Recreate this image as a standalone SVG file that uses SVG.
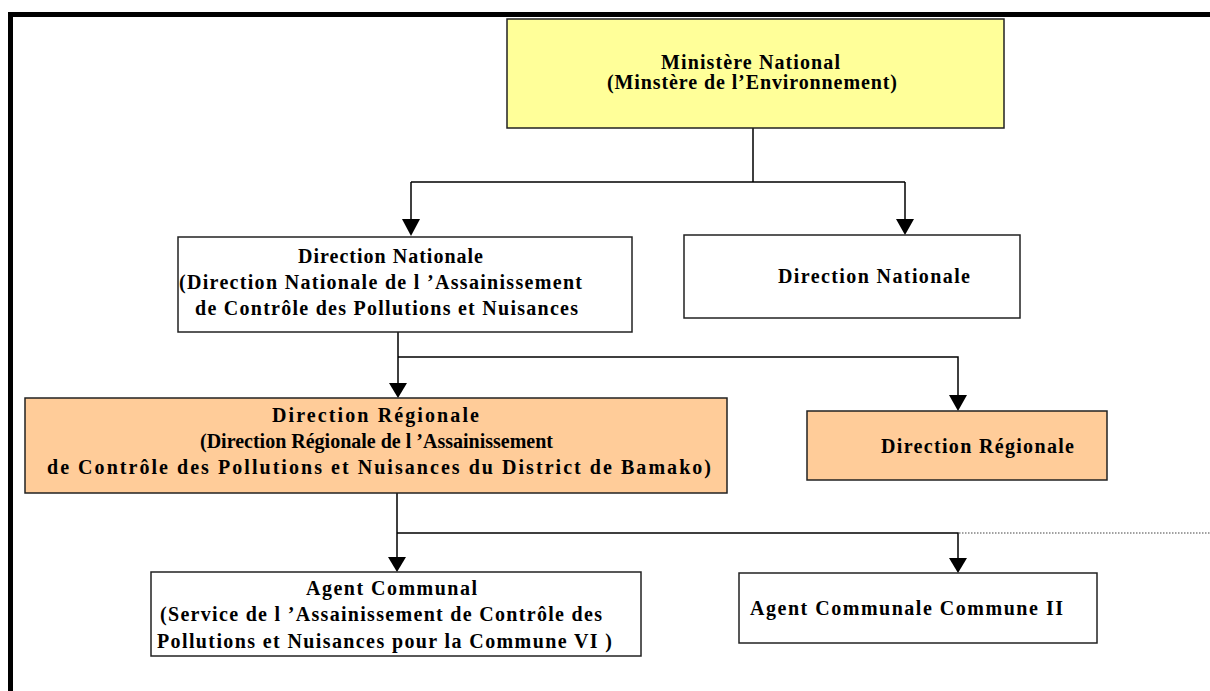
<svg xmlns="http://www.w3.org/2000/svg" width="1210" height="691" viewBox="0 0 1210 691">
<defs>
<style>
.box{stroke:#222;stroke-width:1.5}
.white{fill:#fff}
.yellow{fill:#ffff99}
.orange{fill:#ffcc99}
.t{font-family:"Liberation Serif","Times New Roman",serif;font-weight:bold;font-size:20px;fill:#000}
.ln{fill:none;stroke:#000;stroke-width:1.5}
.dot{fill:none;stroke:#444;stroke-width:1.2;stroke-dasharray:1.5 1.5}
.ah{fill:#000}
</style>
</defs>
<rect x="0" y="0" width="1210" height="691" fill="#fff"/>
<g id="frame">
<rect x="8" y="12" width="1202" height="5" fill="#000"/>
<rect x="8" y="12" width="5" height="679" fill="#000"/>
</g>
<g id="connectors">
<path class="ln" d="M753,128 V182 M411,182 H905"/>
<path class="ln" d="M411,182 V222"/>
<polygon class="ah" points="402,219 420,219 411,236"/>
<path class="ln" d="M905,182 V220"/>
<polygon class="ah" points="896,219 914,219 905,235"/>
<path class="ln" d="M398,332 V384 M398,357 H958 V396"/>
<polygon class="ah" points="389,383 407,383 398,398"/>
<polygon class="ah" points="949,395 967,395 958,411"/>
<path class="ln" d="M397,493 V558 M397,533 H958 V560"/>
<polygon class="ah" points="388,557 406,557 397,572"/>
<polygon class="ah" points="949,558 967,558 958,573"/>
<path class="dot" d="M959,533 H1210"/>
</g>
<g id="n-ministere">
<rect class="box yellow" x="507" y="19" width="497" height="109"/>
<text class="t" x="661" y="69" textLength="179" lengthAdjust="spacing">Ministère National</text>
<text class="t" x="607" y="89" textLength="290" lengthAdjust="spacing">(Minstère de l’Environnement)</text>
</g>
<g id="n-dn1">
<rect class="box white" x="178" y="237" width="454" height="95"/>
<text class="t" x="298" y="263" textLength="185" lengthAdjust="spacing">Direction Nationale</text>
<text class="t" x="179" y="289" textLength="403" lengthAdjust="spacing">(Direction Nationale de l ’Assainissement</text>
<text class="t" x="195" y="315" textLength="383" lengthAdjust="spacing">de Contrôle des Pollutions et Nuisances</text>
</g>
<g id="n-dn2">
<rect class="box white" x="684" y="235" width="336" height="83"/>
<text class="t" x="778" y="283" textLength="192" lengthAdjust="spacing">Direction Nationale</text>
</g>
<g id="n-dr1">
<rect class="box orange" x="25" y="398" width="702" height="95"/>
<text class="t" x="272" y="422" textLength="207" lengthAdjust="spacing">Direction Régionale</text>
<text class="t" x="200" y="448" textLength="353" lengthAdjust="spacing">(Direction Régionale de l ’Assainissement</text>
<text class="t" x="47" y="474" textLength="664" lengthAdjust="spacing">de Contrôle des Pollutions et Nuisances du District de Bamako)</text>
</g>
<g id="n-dr2">
<rect class="box orange" x="807" y="411" width="300" height="69"/>
<text class="t" x="881" y="453" textLength="193" lengthAdjust="spacing">Direction Régionale</text>
</g>
<g id="n-ac1">
<rect class="box white" x="151" y="572" width="490" height="84"/>
<text class="t" x="306" y="595" textLength="171" lengthAdjust="spacing">Agent Communal</text>
<text class="t" x="160" y="621" textLength="442" lengthAdjust="spacing">(Service de l ’Assainissement de Contrôle des</text>
<text class="t" x="157" y="648" textLength="455" lengthAdjust="spacing">Pollutions et Nuisances pour la Commune VI )</text>
</g>
<g id="n-ac2">
<rect class="box white" x="739" y="573" width="358" height="70"/>
<text class="t" x="750" y="615" textLength="313" lengthAdjust="spacing">Agent Communale Commune II</text>
</g>
</svg>
